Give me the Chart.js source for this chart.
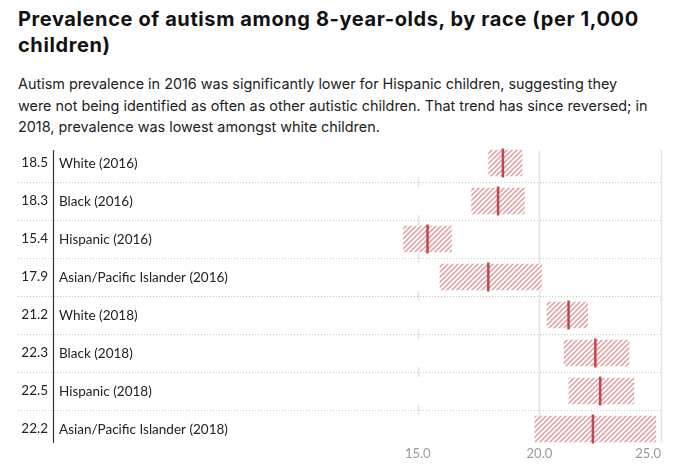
<!DOCTYPE html>
<html><head><meta charset="utf-8">
<script src="https://cdn.jsdelivr.net/npm/chart.js@4.4.0/dist/chart.umd.min.js"></script>
<style>
body{margin:0;background:#fff;width:686px;height:472px;overflow:hidden;position:relative;font-family:Inter,sans-serif;}
#title{position:absolute;left:18px;top:6px;width:660px;font-weight:700;font-size:20px;line-height:26px;letter-spacing:0.6px;color:#111;}
#sub{position:absolute;left:18px;top:73px;width:666px;font-size:14.4px;line-height:21.5px;color:#222;white-space:nowrap;}
#wrap{position:absolute;left:0;top:127px;width:686px;height:345px;}
</style></head><body>
<div id="title">Prevalence of autism among 8-year-olds, by race (per 1,000 children)</div>
<div id="sub">Autism prevalence in 2016 was significantly lower for Hispanic children, suggesting they<br>were not being identified as often as other autistic children. That trend has since reversed; in<br>2018, prevalence was lowest amongst white children.</div>
<div id="wrap"><canvas id="c"></canvas></div>
<script>
const categories = ['White (2016)','Black (2016)','Hispanic (2016)','Asian/Pacific Islander (2016)','White (2018)','Black (2018)','Hispanic (2018)','Asian/Pacific Islander (2018)'];
const prevalence = [18.5, 18.3, 15.4, 17.9, 21.2, 22.3, 22.5, 22.2];
const ciLow  = [17.9, 17.2, 14.4, 15.9, 20.3, 21.0, 21.2, 19.8];
const ciHigh = [19.3, 19.4, 16.4, 20.1, 22.0, 23.7, 23.9, 24.8];
const xTickLabels = [15, 20, 25];

function makePattern(){
  const s = 5, c = document.createElement('canvas');
  c.width = s; c.height = s;
  const g = c.getContext('2d');
  g.fillStyle = '#fff'; g.fillRect(0,0,s,s);
  g.strokeStyle = 'rgb(226,168,170)'; g.lineWidth = 1.7;
  g.beginPath();
  g.moveTo(-1, s+1); g.lineTo(s+1, -1);
  g.moveTo(-1, 1); g.lineTo(1, -1);
  g.moveTo(s-1, s+1); g.lineTo(s+1, s-1);
  g.stroke();
  return g.createPattern(c, 'repeat');
}
const hatch = makePattern();

const decor = {
  id: 'decor',
  beforeDatasetsDraw(chart){
    const {ctx, chartArea: a, scales: {x, y}} = chart;
    ctx.save();
    ctx.strokeStyle = '#e2e2e2'; ctx.lineWidth = 1.5;
    [20, 25].forEach(v => {
      const px = Math.round(x.getPixelForValue(v)) + 0.5;
      ctx.beginPath(); ctx.moveTo(px, a.top + 6); ctx.lineTo(px, a.bottom - 5); ctx.stroke();
    });
    const n = categories.length;
    const seps = [];
    for (let i = 0; i < n - 1; i++) seps.push((y.getPixelForValue(i) + y.getPixelForValue(i + 1)) / 2);
    const px15 = Math.round(x.getPixelForValue(15)) + 0.5;
    seps.forEach(sy => {
      ctx.beginPath(); ctx.moveTo(px15, sy - 5); ctx.lineTo(px15, sy + 5); ctx.stroke();
    });
    ctx.strokeStyle = '#c8c8c8'; ctx.lineWidth = 1; ctx.setLineDash([1, 2]);
    seps.forEach(sy => {
      const yy = Math.round(sy) + 0.5;
      ctx.beginPath(); ctx.moveTo(18, yy); ctx.lineTo(a.right, yy); ctx.stroke();
    });
    ctx.setLineDash([]);
    ctx.strokeStyle = '#333'; ctx.lineWidth = 1.2;
    const ax = Math.round(a.left) + 0.5;
    ctx.beginPath(); ctx.moveTo(ax, a.top + 6); ctx.lineTo(ax, a.bottom - 5); ctx.stroke();
    ctx.restore();
  },
  afterDatasetsDraw(chart){
    const {ctx, chartArea: a, scales: {y}} = chart;
    ctx.save();
    ctx.font = '13.5px Lato'; ctx.fillStyle = '#222';
    ctx.textAlign = 'left'; ctx.textBaseline = 'middle';
    categories.forEach((c, i) => ctx.fillText(c, a.left + 6, y.getPixelForValue(i) + 0.5));
    ctx.restore();
  }
};

new Chart(document.getElementById('c'), {
  type: 'bar',
  data: {
    labels: categories,
    datasets: [
      {
        type: 'bar',
        data: ciLow.map((l, i) => [l, ciHigh[i]]),
        backgroundColor: hatch,
        borderWidth: 0,
        grouped: false,
        categoryPercentage: 1,
        barPercentage: 0.7,
        order: 2
      },
      {
        type: 'line',
        indexAxis: 'y',
        data: prevalence,
        showLine: false,
        pointStyle: 'line',
        pointRadius: 14.5,
        pointRotation: 90,
        pointBorderColor: '#c0474b',
        borderColor: '#c0474b',
        pointBorderWidth: 2.5,
        borderWidth: 2.5,
        order: 1
      }
    ]
  },
  options: {
    indexAxis: 'y',
    responsive: true,
    maintainAspectRatio: false,
    animation: false,
    layout: { padding: { top: 0, right: 25, left: 0, bottom: 0 } },
    plugins: { legend: { display: false }, tooltip: { enabled: false } },
    scales: {
      x: {
        min: 0, max: 25,
        grid: { display: false, drawTicks: false },
        border: { display: false },
        afterFit(s){ s.height = 24; },
        ticks: {
          stepSize: 5, autoSkip: false, maxRotation: 0, align: 'inner', padding: -2,
          color: '#999', font: { family: 'Lato', size: 13 },
          callback: v => xTickLabels.includes(v) ? v.toFixed(1) : ''
        }
      },
      y: {
        offset: true,
        grid: { display: false, drawTicks: false },
        border: { display: false },
        afterFit(s){ s.width = 53; },
        ticks: {
          padding: 5, color: '#222', font: { family: 'Lato', size: 13.5 },
          callback: (v, i) => prevalence[i].toFixed(1)
        }
      }
    }
  },
  plugins: [decor]
});
</script>
</body></html>
